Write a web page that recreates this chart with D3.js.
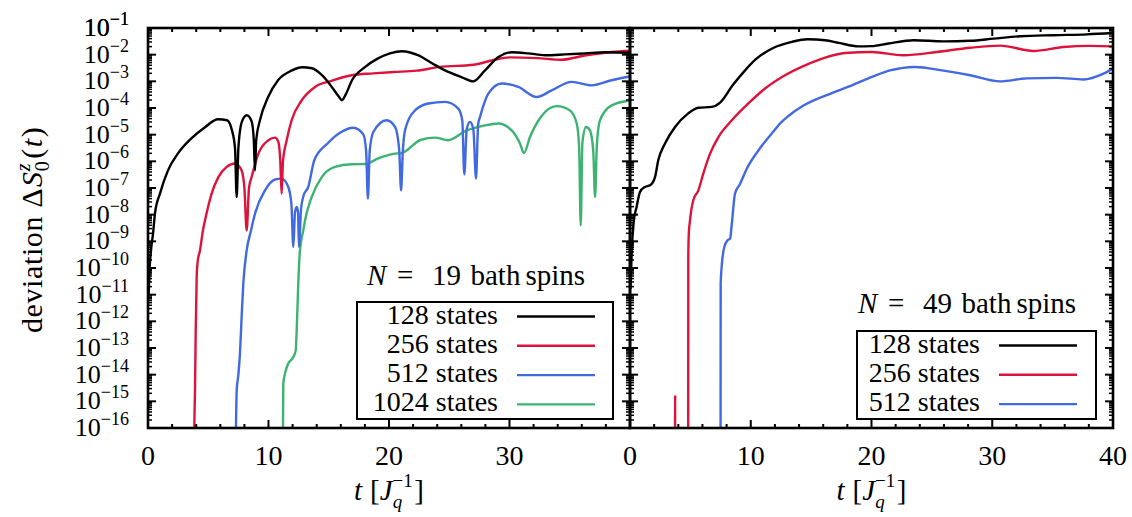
<!DOCTYPE html>
<html>
<head>
<meta charset="utf-8">
<script src="https://cdn.jsdelivr.net/npm/d3@7"></script>
<style>
  body { margin: 0; background: #fff; }
  svg { display: block; }
  text { font-family: "Liberation Serif", "DejaVu Serif", serif; fill: #000; }
</style>
</head>
<body>
<svg id="chart" width="1132" height="517"></svg>
<script>
// every point is [t, log10 of the deviation]

// N = 19 bath spins
const n19_128 = [[0.05,-11],[0.15,-9.9],[0.28,-9.2],[0.42,-8.7],[0.58,-7.95],[1.0,-7.2],[1.66,-6.34],[2.49,-5.7],
  [3.6,-5.14],[4.73,-4.72],[5.81,-4.42],[6.56,-4.46],[6.97,-4.84],[7.22,-5.5],[7.36,-7.34],[7.5,-5.5],[7.8,-4.5],
  [8.2,-4.27],[8.6,-4.5],[8.78,-5.2],[8.88,-6.34],[8.98,-5.2],[9.29,-4.46],[9.96,-3.6],[10.79,-2.96],[11.95,-2.59],
  [12.78,-2.47],[13.61,-2.51],[14.44,-2.77],[15.27,-3.22],[15.8,-3.55],[16.1,-3.71],[16.4,-3.5],[16.93,-2.96],
  [18.0,-2.47],[19.09,-2.14],[20.08,-1.95],[21.08,-1.87],[22.4,-2.02],[23.57,-2.32],[24.65,-2.59],[26.06,-2.85],
  [26.97,-3.0],[27.97,-2.59],[29.05,-2.1],[30.2,-1.91],[31.54,-1.95],[32.95,-2.02],[34.6,-1.99],[36.27,-1.95],
  [37.93,-1.91],[40,-1.93]];
const n19_256 = [[3.82,-16.6],[3.86,-15.5],[3.9,-14.59],[3.96,-12.34],[4.04,-10.34],[4.12,-9.77],[4.32,-9.33],
  [4.56,-8.59],[4.73,-8.22],[5.28,-7.21],[5.84,-6.59],[6.53,-6.21],[7.22,-6.08],[7.77,-6.34],[8.0,-7.0],[8.19,-8.59],
  [8.38,-7.0],[8.6,-6.59],[9.16,-5.71],[9.99,-5.21],[10.54,-5.11],[10.82,-5.27],[10.98,-6.0],[11.09,-7.21],[11.2,-6.0],
  [11.51,-5.21],[11.92,-4.46],[12.76,-3.71],[13.86,-3.21],[15.24,-2.98],[16.9,-2.77],[18.7,-2.7],[20.36,-2.65],
  [22.3,-2.6],[24.2,-2.46],[27.0,-2.38],[28.6,-2.21],[30.0,-2.1],[32.3,-2.13],[34.3,-2.19],[36.35,-2.02],
  [38.48,-1.9],[40,-1.85]];
const n19_512 = [[7.28,-16.6],[7.3,-16],[7.36,-14.59],[7.5,-14.0],[7.63,-13.21],[7.77,-11.84],[7.91,-10.58],
  [8.19,-9.34],[8.55,-8.59],[8.88,-7.96],[9.71,-7.09],[10.54,-6.68],[11.09,-6.65],[11.64,-6.96],[11.9,-7.6],
  [12.06,-9.21],[12.2,-7.9],[12.34,-7.71],[12.45,-7.9],[12.53,-9.21],[12.7,-7.8],[12.9,-7.3],[13.3,-6.96],
  [13.8,-5.96],[14.9,-5.33],[15.93,-4.93],[17.04,-4.74],[17.87,-4.99],[18.1,-5.6],[18.25,-7.4],[18.4,-5.6],
  [18.7,-4.9],[19.8,-4.46],[20.5,-4.71],[20.85,-5.6],[21.0,-7.09],[21.15,-5.6],[21.33,-4.84],[22.16,-4.09],
  [23.26,-3.83],[24.65,-3.77],[25.75,-4.02],[26.08,-4.46],[26.25,-6.49],[26.45,-4.8],[26.72,-4.52],[27.0,-4.8],
  [27.22,-6.65],[27.4,-4.6],[27.55,-4.34],[28.24,-3.46],[29.35,-3.08],[30.73,-3.21],[32.26,-3.59],[33.5,-3.34],
  [35.16,-3.02],[36.82,-3.15],[38.48,-2.96],[40,-2.82]];
const n19_1024 = [[11.18,-16.6],[11.2,-16],[11.23,-14.33],[11.37,-13.96],[11.64,-13.58],[12.06,-13.34],[12.26,-13.09],
  [12.34,-12.34],[12.48,-10.46],[12.61,-9.34],[12.89,-8.59],[13.03,-8.22],[13.58,-7.34],[14.42,-6.59],[15.52,-6.21],
  [16.9,-6.11],[18.0,-6.1],[19.2,-5.87],[20.5,-5.71],[21.05,-5.69],[22.6,-5.2],[23.82,-5.11],[24.9,-5.21],
  [26.4,-4.85],[27.97,-4.65],[29.07,-4.58],[30.18,-4.84],[30.87,-5.33],[31.2,-5.69],[31.7,-5.09],[32.6,-4.34],
  [33.9,-3.93],[35.02,-4.09],[35.58,-4.58],[35.78,-5.5],[35.91,-8.4],[36.05,-5.3],[36.35,-4.71],[36.68,-4.84],
  [36.95,-5.6],[37.1,-7.34],[37.25,-5.4],[37.51,-4.46],[38.48,-3.9],[40,-3.72]];

// N = 49 bath spins
const n49_128 = [[0.04,-10.8],[0.15,-9.3],[0.3,-8.3],[0.55,-7.7],[0.83,-7.15],[1.24,-6.96],[1.66,-6.9],[2.07,-6.59],
  [2.34,-5.96],[2.9,-5.33],[3.73,-4.71],[4.8,-4.21],[5.66,-3.99],[6.77,-3.96],[7.46,-3.8],[8.5,-3.15],[9.53,-2.59],
  [10.4,-2.18],[11.9,-1.74],[13.4,-1.52],[14.7,-1.42],[16.16,-1.46],[17.3,-1.56],[18.92,-1.69],[20.0,-1.68],
  [21.4,-1.58],[23.5,-1.46],[25.96,-1.5],[28.17,-1.48],[30.1,-1.4],[32.31,-1.31],[35.07,-1.27],[37.84,-1.24],
  [40,-1.19]];
const n49_256 = [[4.82,-16.6],[4.83,-9.5],[4.87,-8.71],[4.97,-8.21],[5.24,-7.46],[5.66,-7.09],[6.07,-6.46],
  [6.63,-5.71],[7.32,-5.09],[8.43,-4.46],[9.8,-3.83],[11.18,-3.27],[12.84,-2.77],[14.5,-2.4],[16.16,-2.11],
  [17.81,-1.94],[20.02,-1.9],[22.65,-2.02],[25.41,-1.9],[28.17,-1.74],[30.65,-1.66],[33.42,-1.86],[35.9,-1.71],
  [38.11,-1.67],[40,-1.69]];
const n49_256_spike = [[3.73,-16.6],[3.74,-14.78]];
const n49_512 = [[7.5,-16.6],[7.51,-10.58],[7.59,-9.96],[7.81,-9.21],[8.1,-8.95],[8.29,-8.9],[8.43,-8.35],
  [8.7,-7.2],[9.11,-6.85],[9.7,-6.25],[10.7,-5.55],[11.74,-4.96],[12.5,-4.55],[13.12,-4.3],[14.4,-3.9],
  [16.71,-3.44],[18.37,-3.15],[20.1,-2.82],[21.54,-2.59],[23.6,-2.46],[25.96,-2.6],[28.17,-2.77],[30.65,-3.0],
  [32.86,-2.89],[35.34,-2.87],[37.55,-2.93],[39.21,-2.71],[40,-2.52]];

const stateLabels = ["128 states", "256 states", "512 states", "1024 states"];
const seriesColors = ["#000000", "#dc143c", "#4169e1", "#3cb371"];
const xTickLabelsLeft = [0, 10, 20, 30];
const xTickLabelsRight = [0, 10, 20, 30, 40];
const yExponents = d3.range(-16, 0);

const svg = d3.select("#chart");
const plotTop = 28, plotBottom = 428;

const y = d3.scaleLog().domain([1e-16, 1e-1]).range([plotBottom, plotTop]);

const panels = [
  { left: 148, right: 630, labels: xTickLabelsLeft, nBath: "19",
    series: [n19_128, n19_256, n19_512, n19_1024], extra: [],
    titleY: 285, nX: 367,
    box: { x: 357, y: 302, w: 256, h: 117 }, labelX: 498, lineX0: 517, lineX1: 595 },
  { left: 630, right: 1113, labels: xTickLabelsRight, nBath: "49",
    series: [n49_128, n49_256, n49_512], extra: [{ data: n49_256_spike, i: 1 }],
    titleY: 313, nX: 858,
    box: { x: 857, y: 331, w: 239, h: 88 }, labelX: 980, lineX0: 999, lineX1: 1077 }
];

const minorY = [];
yExponents.forEach(e => { if (e < -1) for (let k = 2; k <= 9; k++) minorY.push(k * Math.pow(10, e)); });

panels.forEach((p, pi) => {
  const x = d3.scaleLinear().domain([0, 40]).range([p.left, p.right]);
  const clipId = "clip" + pi;
  svg.append("clipPath").attr("id", clipId)
    .append("rect").attr("x", p.left).attr("y", plotTop).attr("width", p.right - p.left).attr("height", plotBottom - plotTop);

  const line = d3.line().x(d => x(d[0])).y(d => y(Math.pow(10, d[1]))).curve(d3.curveMonotoneX);
  const g = svg.append("g").attr("clip-path", `url(#${clipId})`);

  p.extra.forEach(s => {
    g.append("path").attr("d", d3.line().x(d => x(d[0])).y(d => y(Math.pow(10, d[1])))(s.data))
      .attr("fill", "none").attr("stroke", seriesColors[s.i]).attr("stroke-width", 2.4);
  });
  p.series.slice().reverse().forEach((s, ri) => {
    const i = p.series.length - 1 - ri;
    g.append("path").attr("d", line(s))
      .attr("fill", "none").attr("stroke", seriesColors[i]).attr("stroke-width", 2.4)
      .attr("stroke-linejoin", "round");
  });

  // ticks
  const ticks = svg.append("g").attr("stroke", "#000").attr("stroke-width", 2);
  d3.range(0, 41, 2).forEach(t => {
    const len = t % 10 === 0 ? 8 : 4;
    ticks.append("line").attr("x1", x(t)).attr("x2", x(t)).attr("y1", plotBottom).attr("y2", plotBottom - len);
    ticks.append("line").attr("x1", x(t)).attr("x2", x(t)).attr("y1", plotTop).attr("y2", plotTop + len);
  });
  yExponents.concat([-1]).forEach(e => {
    const yy = y(Math.pow(10, e));
    ticks.append("line").attr("x1", p.left).attr("x2", p.left + 8).attr("y1", yy).attr("y2", yy);
    ticks.append("line").attr("x1", p.right).attr("x2", p.right - 8).attr("y1", yy).attr("y2", yy);
  });
  minorY.forEach(v => {
    const yy = y(v);
    ticks.append("line").attr("x1", p.left).attr("x2", p.left + 4).attr("y1", yy).attr("y2", yy).attr("stroke-width", 1.5);
    ticks.append("line").attr("x1", p.right).attr("x2", p.right - 4).attr("y1", yy).attr("y2", yy).attr("stroke-width", 1.5);
  });

  svg.append("rect").attr("x", p.left).attr("y", plotTop)
    .attr("width", p.right - p.left).attr("height", plotBottom - plotTop)
    .attr("fill", "none").attr("stroke", "#000").attr("stroke-width", 2.6);

  // x tick labels
  svg.append("g").selectAll("text").data(p.labels).join("text")
    .attr("x", d => x(d)).attr("y", 465).attr("text-anchor", "middle")
    .attr("font-size", 28).text(d => d);

  // x axis title: t [J_q^-1]
  const xt = svg.append("text").attr("x", (p.left + p.right) / 2).attr("y", 500)
    .attr("text-anchor", "middle").attr("font-size", 29);
  xt.append("tspan").attr("font-style", "italic").text("t");
  xt.append("tspan").attr("dx", 8).text("[");
  xt.append("tspan").attr("font-style", "italic").text("J");
  xt.append("tspan").attr("font-size", 19).attr("dy", -13).text("\u22121");
  xt.append("tspan").attr("font-size", 19).attr("font-style", "italic").attr("dx", -20).attr("dy", 21).text("q");
  xt.append("tspan").attr("dx", 12).attr("dy", -8).text("]");

  // legend
  const lg = svg.append("g");
  lg.append("rect").attr("x", p.box.x).attr("y", p.box.y).attr("width", p.box.w).attr("height", p.box.h)
    .attr("fill", "#fff").attr("stroke", "#000").attr("stroke-width", 2);
  const words = [["N", 0, "italic"], ["=", 30, null], [p.nBath, 65, null], ["bath", 103.5, null], ["spins", 158.5, null]];
  words.forEach(w => {
    lg.append("text").attr("x", p.nX + w[1]).attr("y", p.titleY).attr("font-size", 29)
      .attr("font-style", w[2]).text(w[0]);
  });
  p.series.forEach((s, i) => {
    const by = p.box.y + 21.5 + i * 29.3;
    lg.append("text").attr("x", p.labelX).attr("y", by).attr("text-anchor", "end")
      .attr("font-size", 28).text(stateLabels[i]);
    lg.append("line").attr("x1", p.lineX0).attr("x2", p.lineX1).attr("y1", by - 7).attr("y2", by - 7)
      .attr("stroke", seriesColors[i]).attr("stroke-width", 2.4);
  });
});

// y tick labels
const yl = svg.append("g").selectAll("text").data(yExponents.concat([-1])).join("text")
  .attr("x", 129).attr("y", d => y(Math.pow(10, d)) + 8)
  .attr("text-anchor", "end").attr("font-size", 26);
yl.append("tspan").text("10");
yl.append("tspan").attr("font-size", 18).attr("dy", -11).text(d => "\u2212" + (-d));

// y axis title: deviation ΔS_0^z(t)
const yt = svg.append("text").attr("transform", "translate(42,333) rotate(-90)")
  .attr("font-size", 30).attr("letter-spacing", 0.6);
yt.append("tspan").text("deviation \u0394");
yt.append("tspan").attr("font-style", "italic").attr("dx", 1).text("S");
yt.append("tspan").attr("font-size", 20).attr("dy", 7).text("0");
yt.append("tspan").attr("font-size", 20).attr("font-style", "italic").attr("dx", -10.5).attr("dy", -19).text("z");
yt.append("tspan").attr("dx", 4).attr("dy", 12).text("(");
yt.append("tspan").attr("font-style", "italic").attr("dx", 1).text("t");
yt.append("tspan").attr("dx", 1).text(")");
</script>
</body>
</html>
